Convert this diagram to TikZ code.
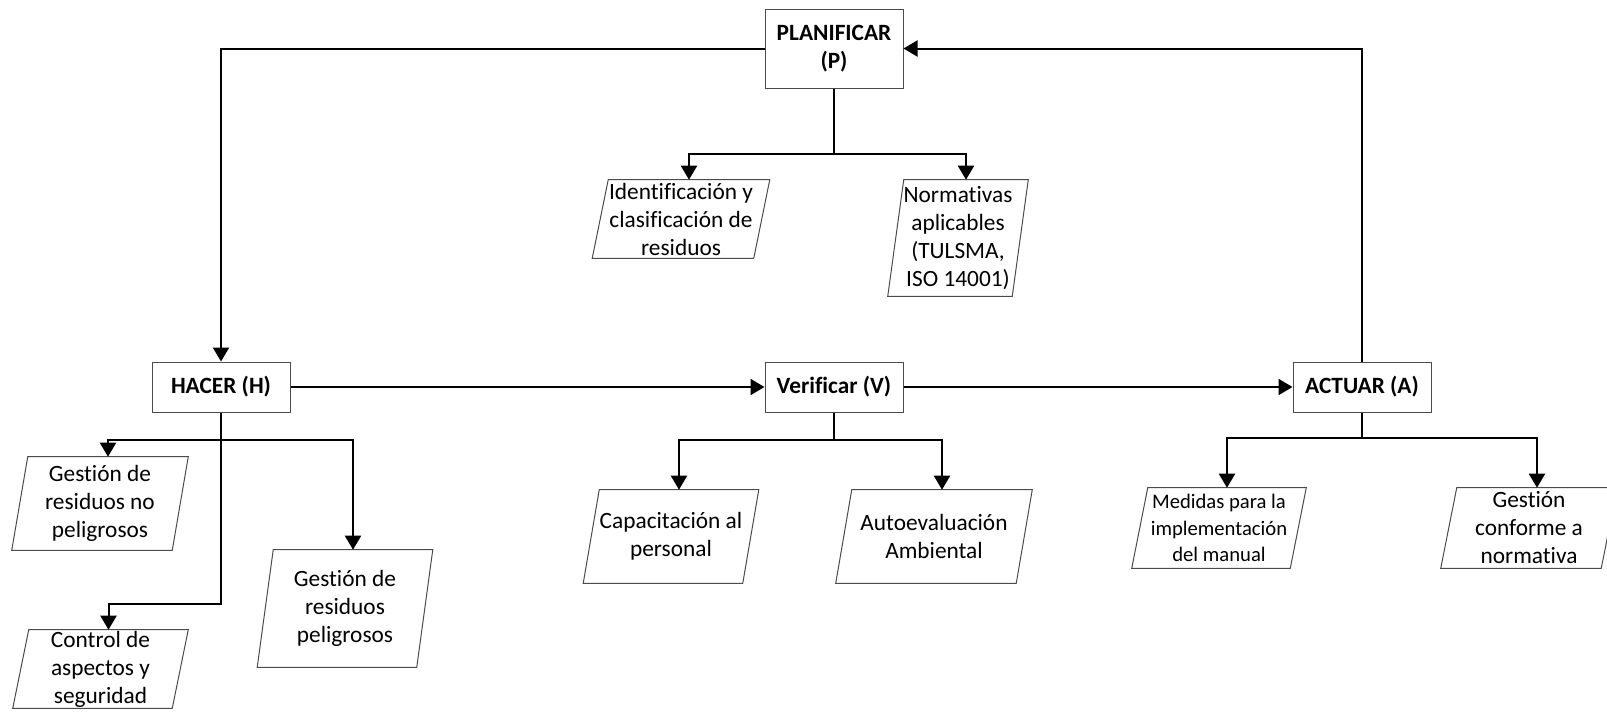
\documentclass[tikz,border=0pt]{standalone}
\usepackage{fontspec}
\setmainfont{Carlito}[Ligatures=NoCommon]
\usetikzlibrary{arrows.meta,calc}
\begin{document}
\begin{tikzpicture}[x=0.75pt,y=-0.75pt,
  stage/.style={draw=black!70, line width=0.75pt, fill=white, align=center,
    inner sep=0pt, minimum width=103.5pt,
    font=\fontsize{17.5}{21}\selectfont\bfseries},
  task/.style={align=center, inner sep=0pt,
    font=\fontsize{17.5}{21}\selectfont},
  small/.style={font=\fontsize{15.5}{20}\selectfont},
  wh/.style 2 args={minimum width=#1*0.75pt, minimum height=#2*0.75pt},
  link/.style={line width=1.5pt, -{Triangle[width=12pt,length=10.5pt]}},
  outline/.style={draw=black!70, line width=0.75pt}
]
\useasboundingbox (0,0) rectangle (1607,711);

% PDCA stages
\node[stage, minimum height=59.25pt] (P) at (834,48.5) {PLANIFICAR\\(P)};
\node[stage, minimum height=37.5pt] (H) at (221,387) {HACER (H)};
\node[stage, minimum height=37.5pt] (V) at (834,387) {Verificar (V)};
\node[stage, minimum height=37.5pt] (A) at (1362,387) {ACTUAR (A)};

% activities (parallelograms)
\node[task, wh={161}{78}] (ident) at (681,219) {Identificación y\\clasificación de\\residuos};
\node[task, wh={124}{116}] (norm) at (958,238) {Normativas\\aplicables\\(TULSMA,\\ISO 14001)};
\node[task, wh={160}{93}] (gnp) at (100,503.5) {Gestión de\\residuos no\\peligrosos};
\node[task, wh={159}{117}] (gp) at (345,608.5) {Gestión de\\residuos\\peligrosos};
\node[task, wh={159}{78}] (ctrl) at (100.5,669) {Control de\\aspectos y\\seguridad};
\node[task, wh={159}{93}] (cap) at (671,536.5) {Capacitación al\\personal};
\node[task, wh={180}{93}] (auto) at (934,536.5) {Autoevaluación\\Ambiental};
\node[task, small, wh={158}{80}] (med) at (1219,528) {Medidas para la\\implementación\\del manual};
\node[task, wh={160}{80}] (gcn) at (1529,528) {Gestión\\conforme a\\normativa};

\foreach \n in {ident,norm,gnp,gp,ctrl,cap,auto,med,gcn}
  \draw[outline] ($(\n.north west)+(8,0)$) -- ($(\n.north east)+(8,0)$)
    -- ($(\n.south east)+(-8,0)$) -- ($(\n.south west)+(-8,0)$) -- cycle;

% cycle connectors
\draw[link] (P.west) -| (H.north);
\draw[link] (H.east) -- (V.west);
\draw[link] (V.east) -- (A.west);
\draw[link] (A.north) |- (P.east);

% PLANIFICAR branches
\draw[link] (P.south) -- ++(0,65) -| ([xshift=6pt]ident.north);
\draw[link] (P.south) -- ++(0,65) -| ([xshift=6pt]norm.north);

% HACER branches
\draw[link] (H.south) -- ++(0,27) -| ([xshift=6pt]gnp.north);
\draw[link] (H.south) -- ++(0,27) -| ([xshift=6pt]gp.north);
\draw[link] (H.south) -- ++(0,191) -| ([xshift=6pt]ctrl.north);

% Verificar branches
\draw[link] (V.south) -- ++(0,27) -| ([xshift=6pt]cap.north);
\draw[link] (V.south) -- ++(0,27) -| ([xshift=6pt]auto.north);

% ACTUAR branches
\draw[link] (A.south) -- ++(0,25) -| ([xshift=6pt]med.north);
\draw[link] (A.south) -- ++(0,25) -| ([xshift=6pt]gcn.north);
\end{tikzpicture}
\end{document}
